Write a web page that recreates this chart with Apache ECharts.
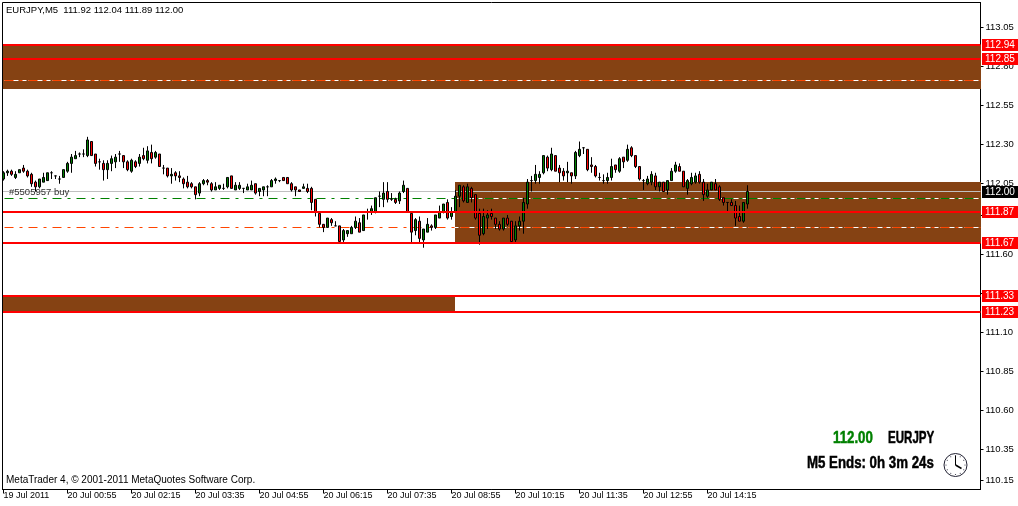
<!DOCTYPE html>
<html><head><meta charset="utf-8">
<style>html,body{margin:0;padding:0;background:#fff}#c{width:1018px;height:506px}</style>
<script src="https://cdn.jsdelivr.net/npm/echarts@6/dist/echarts.min.js"></script>
</head><body><div id="c"></div>
<script>
const opens=[112.08,112.12,112.13,112.09,112.12,112.15,112.13,112.11,112.06,112.03,112.06,112.07,112.12,112.10,112.08,112.09,112.13,112.18,112.21,112.24,112.24,112.23,112.32,112.24,112.19,112.18,112.14,112.18,112.19,112.24,112.23,112.19,112.13,112.19,112.18,112.23,112.20,112.25,112.22,112.24,112.15,112.15,112.10,112.12,112.10,112.08,112.06,112.05,112.03,111.99,112.05,112.07,112.05,112.01,112.02,112.02,112.03,112.10,112.01,112.02,112.02,112.01,112.01,112.05,112.00,112.01,112.03,112.03,112.07,112.07,112.09,112.09,112.05,112.03,112.01,112.02,112.02,112.02,111.95,111.86,111.79,111.77,111.82,111.78,111.78,111.69,111.73,111.73,111.77,111.80,111.75,111.87,111.87,111.87,111.97,111.95,112.00,111.95,111.95,111.94,112.00,112.02,111.86,111.75,111.81,111.69,111.74,111.78,111.77,111.83,111.87,111.93,111.84,111.87,111.97,112.03,111.93,112.02,111.98,111.86,111.73,111.83,111.86,111.83,111.79,111.76,111.83,111.81,111.69,111.78,111.81,111.92,112.07,112.07,112.09,112.12,112.22,112.14,112.23,112.15,112.13,112.12,112.12,112.10,112.23,112.28,112.27,112.17,112.16,112.09,112.07,112.07,112.09,112.17,112.13,112.22,112.20,112.28,112.23,112.16,112.07,112.05,112.06,112.10,112.03,112.06,112.01,112.07,112.13,112.16,112.13,112.02,112.05,112.06,112.11,112.06,111.97,112.01,112.05,112.03,111.96,111.93,111.93,111.91,111.84,111.81,111.92];
const closes=[112.12,112.13,112.11,112.11,112.14,112.13,112.10,112.05,112.03,112.08,112.09,112.12,112.12,112.10,112.08,112.14,112.18,112.22,112.23,112.24,112.24,112.33,112.23,112.18,112.19,112.14,112.18,112.21,112.22,112.24,112.19,112.14,112.20,112.16,112.22,112.21,112.26,112.21,112.25,112.16,112.15,112.10,112.11,112.10,112.09,112.05,112.03,112.03,111.98,112.05,112.07,112.06,112.01,112.03,112.04,112.02,112.09,112.02,112.04,112.04,112.02,112.03,112.04,111.99,112.02,112.03,112.03,112.07,112.08,112.07,112.07,112.05,112.01,112.01,112.00,112.03,112.00,111.93,111.87,111.79,111.77,111.83,111.80,111.78,111.68,111.75,111.75,111.77,111.81,111.74,111.85,111.87,111.89,111.96,111.97,111.99,111.95,111.95,111.93,111.99,112.04,111.87,111.74,111.82,111.70,111.76,111.79,111.77,111.85,111.87,111.92,111.83,111.87,111.97,112.04,111.94,112.03,111.96,111.83,111.72,111.84,111.85,111.84,111.79,111.76,111.83,111.79,111.68,111.78,111.81,111.93,112.06,112.07,112.11,112.11,112.23,112.15,112.24,112.13,112.12,112.10,112.13,112.10,112.25,112.27,112.28,112.14,112.16,112.10,112.09,112.07,112.09,112.16,112.14,112.21,112.19,112.27,112.23,112.16,112.08,112.07,112.08,112.11,112.03,112.06,112.00,112.07,112.13,112.17,112.13,112.03,112.07,112.09,112.10,112.06,111.98,112.01,112.06,112.01,111.95,111.93,111.93,111.91,111.83,111.81,111.93,112.00];
const lows=[112.07,112.10,112.10,112.08,112.12,112.12,112.09,112.03,112.00,112.02,112.06,112.07,112.08,112.08,112.05,112.09,112.12,112.12,112.21,112.22,112.22,112.22,112.23,112.16,112.14,112.07,112.08,112.13,112.15,112.19,112.15,112.13,112.12,112.15,112.16,112.20,112.18,112.18,112.21,112.16,112.11,112.09,112.05,112.07,112.06,112.02,112.02,112.02,111.95,111.97,112.04,112.04,112.00,112.01,112.01,112.01,112.02,112.02,112.01,112.01,111.99,112.01,112.01,111.98,111.97,111.97,111.97,112.03,112.05,112.06,112.07,112.05,112.00,111.97,112.00,112.02,111.99,111.88,111.84,111.77,111.74,111.77,111.78,111.78,111.68,111.67,111.71,111.73,111.76,111.74,111.75,111.82,111.85,111.86,111.90,111.90,111.93,111.94,111.92,111.92,111.99,111.87,111.67,111.72,111.67,111.64,111.74,111.75,111.76,111.83,111.86,111.82,111.82,111.87,111.90,111.93,111.93,111.93,111.82,111.66,111.72,111.76,111.82,111.76,111.75,111.75,111.78,111.68,111.67,111.75,111.73,111.89,112.00,112.05,112.05,112.11,112.13,112.13,112.13,112.06,112.07,112.06,112.05,112.08,112.22,112.24,112.13,112.12,112.09,112.07,112.05,112.05,112.07,112.12,112.12,112.15,112.19,112.22,112.15,112.07,112.01,112.04,112.04,112.01,112.00,112.00,111.98,112.07,112.12,112.13,112.03,111.98,112.04,112.05,112.05,111.94,111.96,112.01,112.01,111.94,111.91,111.87,111.91,111.78,111.81,111.80,111.89];
const highs=[112.13,112.14,112.14,112.13,112.14,112.17,112.14,112.12,112.07,112.08,112.12,112.12,112.13,112.10,112.10,112.14,112.19,112.24,112.26,112.25,112.27,112.35,112.32,112.24,112.21,112.20,112.20,112.23,112.24,112.26,112.23,112.20,112.21,112.20,112.24,112.28,112.29,112.30,112.26,112.24,112.17,112.15,112.15,112.13,112.13,112.09,112.10,112.06,112.03,112.06,112.08,112.08,112.06,112.06,112.04,112.05,112.09,112.10,112.06,112.06,112.02,112.05,112.07,112.05,112.02,112.03,112.04,112.08,112.09,112.07,112.09,112.09,112.06,112.03,112.01,112.05,112.05,112.03,111.95,111.87,111.79,111.83,111.83,111.81,111.78,111.76,111.75,111.78,111.84,111.83,111.85,111.89,111.91,111.96,112.00,112.06,112.06,111.99,111.96,112.00,112.07,112.02,111.87,111.83,111.84,111.76,111.83,111.79,111.85,111.91,111.92,111.95,111.90,112.01,112.04,112.04,112.05,112.03,111.98,111.89,111.89,111.88,111.89,111.83,111.81,111.83,111.85,111.81,111.81,111.84,111.96,112.08,112.10,112.17,112.13,112.23,112.23,112.28,112.23,112.17,112.15,112.19,112.12,112.26,112.32,112.28,112.27,112.22,112.17,112.12,112.11,112.12,112.21,112.17,112.22,112.22,112.30,112.29,112.23,112.16,112.08,112.10,112.13,112.12,112.06,112.06,112.07,112.15,112.19,112.18,112.13,112.08,112.12,112.12,112.13,112.08,112.05,112.06,112.08,112.04,111.96,111.93,111.95,111.94,111.91,111.93,112.04];

const timeTickIndex=[0,16,32,48,64,80,96,112,128,144,160,176];
const timeTickLabels=['19 Jul 2011','20 Jul 00:55','20 Jul 02:15','20 Jul 03:35','20 Jul 04:55','20 Jul 06:15','20 Jul 07:35','20 Jul 08:55','20 Jul 10:15','20 Jul 11:35','20 Jul 12:55','20 Jul 14:15'];
const priceTicks=[113.05,112.80,112.55,112.30,112.05,111.85,111.60,111.35,111.10,110.85,110.60,110.35,110.15];

const redLevels=[112.94,112.85,111.87,111.67,111.33,111.23];
const bidLevel=[112.00];
const greenLevel=[111.955];
const orangeLevels=[111.77,112.71];
const whiteLevels=[112.71,111.955,111.77];
// zones: first bar, last bar, upper price, lower price
const zoneFrom=[-0.25,112.875,-0.25];
const zoneTo=[244.25,244.25,112.875];
const zoneTop=[112.94,112.06,111.33];
const zoneBottom=[112.655,111.67,111.23];

const BROWN='#854213';
const rows=opens.map((o,i)=>[i,o,closes[i],lows[i],highs[i]]);
const F='"Liberation Sans",Arial,sans-serif';
const chart=echarts.init(document.getElementById('c'),null,{renderer:'canvas'});

// a horizontal price level drawn across the plot through the y scale, snapped to the pixel grid
function levelSeries(name,levels,z,stroke,width,dash,tagColor){
 return {type:'custom',name,z,silent:true,clip:false,encode:{x:0,y:1},
  data:levels.map(v=>[0,v]),
  renderItem:(params,api)=>{
   const cs=params.coordSys,v=api.value(1),raw=api.coord([0,v])[1];
   const Y=width%2?Math.floor(raw)+0.5:Math.round(raw);
   const children=[{type:'line',shape:{x1:cs.x+0.5,y1:Y,x2:cs.x+cs.width,y2:Y},
     style:{stroke,lineWidth:width,lineDash:dash||null,lineDashOffset:dash?-1.5:0,fill:null}}];
   if(tagColor){
    const tx=cs.x+cs.width+1.5,ty=Math.round(raw)-6;
    children.push({type:'rect',shape:{x:tx,y:ty,width:36,height:12},style:{fill:tagColor}});
    children.push({type:'text',x:tx+3,y:ty+6.5,style:{text:v.toFixed(2),fill:'#fff',font:'10px '+F,verticalAlign:'middle',align:'left'}});
   }
   return {type:'group',children};
  }};
}

const big=(text,x,y,sx,fill)=>({type:'text',z:100,x,y,scaleX:sx,style:{text,fill,stroke:fill,lineWidth:0.5,font:'bold 17px '+F}});

chart.setOption({
 animation:false,
 backgroundColor:'#fff',
 grid:{left:2.5,right:37.5,top:2.5,bottom:16.5,show:true,borderColor:'#000',borderWidth:1,backgroundColor:'#fff'},
 xAxis:{type:'value',min:-0.25,max:244.25,splitLine:{show:false},
  axisLine:{show:true,onZero:false,lineStyle:{color:'#000'}},
  axisTick:{show:true,length:4,customValues:timeTickIndex,lineStyle:{color:'#000'}},
  axisLabel:{show:true,customValues:timeTickIndex,margin:2,align:'left',color:'#000',fontFamily:F,fontSize:9,
   formatter:v=>timeTickLabels[timeTickIndex.indexOf(v)]||''}},
 yAxis:{type:'value',position:'right',min:110.0924,max:113.21,scale:true,splitLine:{show:false},
  axisLine:{show:true,onZero:false,lineStyle:{color:'#000'}},
  axisTick:{show:true,length:3,customValues:priceTicks,lineStyle:{color:'#000'}},
  axisLabel:{show:true,customValues:priceTicks,margin:5,color:'#000',fontFamily:F,fontSize:9.5,formatter:v=>v.toFixed(2)}},
 series:[
  {type:'custom',name:'zones',z:1,silent:true,clip:true,encode:{x:[0,1],y:[2,3]},
   data:zoneFrom.map((f,i)=>[f,zoneTo[i],zoneTop[i],zoneBottom[i]]),
   renderItem:(params,api)=>{
    const a=api.coord([api.value(0),api.value(2)]),b=api.coord([api.value(1),api.value(3)]);
    const x=Math.round(a[0]),y=Math.round(a[1]);
    return {type:'rect',shape:{x,y,width:Math.round(b[0])-x,height:Math.round(b[1])-y},style:{fill:BROWN}};
   }},
  levelSeries('white',whiteLevels,2,'#fff',1,[6,2]),
  levelSeries('green',greenLevel,3,'#008000',1,[9,6,3,6]),
  levelSeries('orange',orangeLevels,3,'#ff4500',1,[9,6,3,6]),
  levelSeries('bid',bidLevel,3,'#c0c0c0',1,null,'#000'),
  {type:'candlestick',name:'EURJPY,M5',data:rows,encode:{x:0,y:[1,2,3,4]},barWidth:2,z:4,silent:true,
   itemStyle:{color:'#008000',color0:'#ff0000',borderColor:'#000',borderColor0:'#000',borderColorDoji:'#000',borderWidth:1}},
  levelSeries('red',redLevels,5,'#ff0000',2,null,'#ff0000')
 ],
 graphic:[
  {type:'text',z:100,x:6,y:5,style:{text:'EURJPY,M5  111.92 112.04 111.89 112.00',fill:'#000',font:'9.5px '+F}},
  {type:'text',z:100,x:6,y:475,style:{text:'MetaTrader 4, © 2001-2011 MetaQuotes Software Corp.',fill:'#000',font:'10px '+F}},
  {type:'text',z:100,x:9,y:187,style:{text:'#5505957 buy',fill:'#333',font:'9.5px '+F}},
  big('112.00',833,430,0.78,'#008000'),
  big('EURJPY',888,430,0.68,'#000'),
  big('M5 Ends: 0h 3m 24s',807,455,0.78,'#000'),
  {type:'group',z:100,x:955.5,y:465,children:[
   {type:'circle',shape:{cx:0,cy:0,r:11.5},style:{fill:'#fff',stroke:'#223',lineWidth:1}},
   {type:'line',shape:{x1:0,y1:0,x2:0,y2:-9},style:{stroke:'#000',lineWidth:1}},
   {type:'line',shape:{x1:0,y1:0,x2:6,y2:3.5},style:{stroke:'#000',lineWidth:1.5}},
   ...[0,30,60,90,120,150,180,210,240,270,300,330].map(a=>({type:'circle',shape:{cx:9.5*Math.sin(a*Math.PI/180),cy:-9.5*Math.cos(a*Math.PI/180),r:0.6},style:{fill:'#334'}}))
  ]}
 ]
});
</script></body></html>
